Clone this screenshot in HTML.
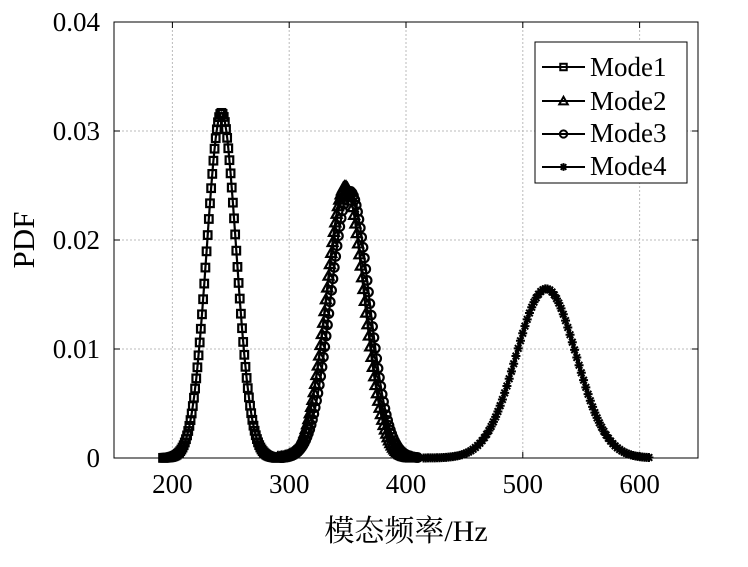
<!DOCTYPE html>
<html><head><meta charset="utf-8"><style>
body{margin:0;background:#fff;width:748px;height:562px;overflow:hidden}
svg text{font-family:"Liberation Serif","Noto Serif CJK SC",serif;fill:#000}
</style></head><body>
<svg id="s" width="748" height="562" xmlns="http://www.w3.org/2000/svg">
<rect x="0" y="0" width="748" height="562" fill="#fff"/>
<g id="grid" stroke="#bbb" stroke-width="1" stroke-dasharray="2,2"></g>
<rect x="114" y="22" width="584" height="436" fill="none" stroke="#000" stroke-width="1"/>
<g id="ticks" stroke="#000" stroke-width="1"></g>
<g id="labels" font-size="27"></g>
<g id="data" fill="none" stroke="#000" stroke-width="2.2"></g>
<rect x="535" y="42" width="152" height="141" fill="#fff" stroke="#000" stroke-width="1"/>
<g id="leg" stroke="#000" stroke-width="2" fill="none"></g>
<g font-size="27">
<text x="590" y="76">Mode1</text><text x="590" y="110">Mode2</text>
<text x="590" y="142">Mode3</text><text x="590" y="175">Mode4</text>
</g>
<text x="406" y="541" font-size="30" text-anchor="middle">模态频率/Hz</text>
<text transform="translate(34,240) rotate(-90)" font-size="31" text-anchor="middle">PDF</text>
</svg>
<script>
const NS="http://www.w3.org/2000/svg";
const X=v=>114+(v-150)*584/500, Y=v=>458-v*436/0.04;
function el(p,t,a){const e=document.createElementNS(NS,t);for(const k in a)e.setAttribute(k,a[k]);document.getElementById(p).appendChild(e);return e;}
for(let v=200;v<=600;v+=100){el('grid','line',{x1:X(v),x2:X(v),y1:22,y2:458});
 el('ticks','line',{x1:X(v),x2:X(v),y1:458,y2:452});el('ticks','line',{x1:X(v),x2:X(v),y1:22,y2:28});
 const t=el('labels','text',{x:X(v),y:493,'text-anchor':'middle'});t.textContent=v;}
for(let i=0;i<=4;i++){const v=i*0.01;if(i>0&&i<4)el('grid','line',{x1:114,x2:698,y1:Y(v),y2:Y(v)});
 el('ticks','line',{x1:114,x2:120,y1:Y(v),y2:Y(v)});el('ticks','line',{x1:698,x2:692,y1:Y(v),y2:Y(v)});
 const t=el('labels','text',{x:100,y:Y(v)+9,'text-anchor':'end'});t.textContent=i==0?'0':v.toFixed(2);}
function mk(g,m,x,y,k){k=k||1;
 if(m==0)el(g,'rect',{x:x-3.8*k,y:y-3.8*k,width:7.6*k,height:7.6*k});
 else if(m==1)el(g,'path',{d:`M${x-5*k},${y+4*k}L${x},${y-5*k}L${x+5*k},${y+4*k}Z`});
 else if(m==2)el(g,'circle',{cx:x,cy:y,r:4.3*k});
 else el(g,'path',{d:`M${x-4.5*k},${y}H${x+4.5*k}M${x},${y-4.5*k}V${y+4.5*k}M${x-3.3*k},${y-3.3*k}L${x+3.3*k},${y+3.3*k}M${x-3.3*k},${y+3.3*k}L${x+3.3*k},${y-3.3*k}`,'stroke-width':2});
}
const modes=[[242,12.6,192,290],[348,16,290,405],[352,16.3,293,410],[520,25.7,415,608]];
modes.forEach((p,m)=>{const[mu,sg,a,b]=p;const n=100;let d='';const pts=[];
 for(let i=0;i<=n;i++){const x=a+(b-a)*i/n;const y=Math.exp(-((x-mu)**2)/(2*sg*sg))/(sg*Math.sqrt(2*Math.PI));
  pts.push([X(x),Y(y)]);d+=(i?'L':'M')+X(x).toFixed(1)+','+Y(y).toFixed(1);}
 el('data','path',{d});pts.forEach(q=>mk('data',m,q[0],q[1]));});
[67,101,134,167].forEach((y,m)=>{el('leg','line',{x1:542,x2:585,y1:y,y2:y});mk('leg',m,563.5,y,0.85);});
</script>
</body></html>
